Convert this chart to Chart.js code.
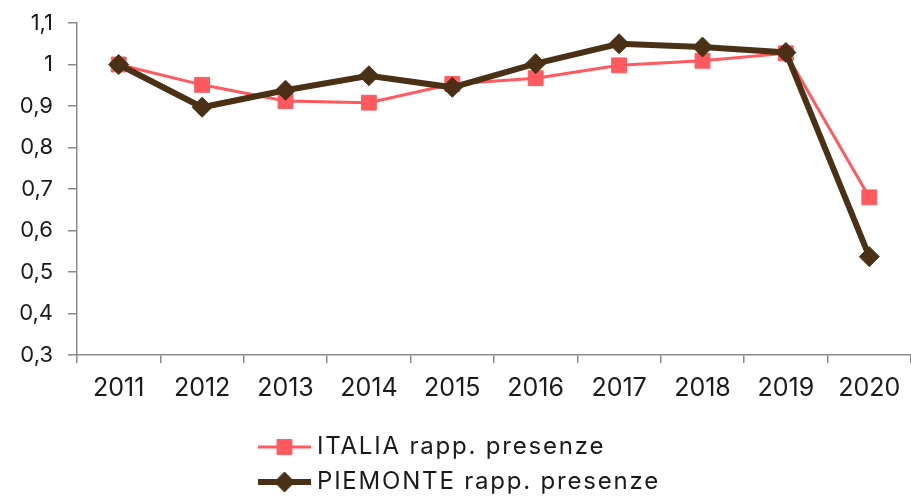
<!DOCTYPE html>
<html><head><meta charset="utf-8">
<script src="https://cdn.jsdelivr.net/npm/chart.js@4"></script>
<style>html,body{margin:0;padding:0;background:#fff;overflow:hidden}#wrap{width:911px;height:497px}</style>
</head><body><div id="wrap"><canvas id="c" width="911" height="497"></canvas></div>
<script>
const years = ['2011','2012','2013','2014','2015','2016','2017','2018','2019','2020'];
const italiaValues = [1.000,0.951,0.912,0.908,0.953,0.967,0.998,1.009,1.027,0.680];
const piemonteValues = [1.000,0.897,0.938,0.973,0.945,1.002,1.050,1.042,1.029,0.537];
const yTickLabels = ['0,3','0,4','0,5','0,6','0,7','0,8','0,9','1','1,1'];
const seriesNames = ['ITALIA rapp. presenze','PIEMONTE rapp. presenze'];

const FONT = 'Inter';
const axisColor = '#8a8a8a';

const legendPlugin = {
  id: 'customLegend',
  afterDraw(chart) {
    const ctx = chart.ctx;
    const x0 = 258, lineLen = 53, rows = [447, 482];
    ctx.save();
    chart.data.datasets.forEach((ds, i) => {
      const y = rows[i];
      ctx.strokeStyle = ds.borderColor;
      ctx.lineWidth = ds.borderWidth;
      ctx.beginPath(); ctx.moveTo(x0, y); ctx.lineTo(x0 + lineLen, y); ctx.stroke();
      const cx = x0 + lineLen / 2;
      ctx.fillStyle = ds.pointBackgroundColor;
      ctx.strokeStyle = ds.pointBorderColor;
      ctx.lineWidth = 1;
      ctx.beginPath();
      if (ds.pointStyle === 'rect') {
        const s = Math.SQRT1_2 * ds.pointRadius;
        ctx.rect(cx - s, y - s, 2 * s, 2 * s);
      } else {
        const r = ds.pointRadius;
        ctx.moveTo(cx, y - r); ctx.lineTo(cx + r, y); ctx.lineTo(cx, y + r); ctx.lineTo(cx - r, y); ctx.closePath();
      }
      ctx.fill(); ctx.stroke();
      ctx.fillStyle = '#1a1a1a';
      ctx.font = '24px ' + FONT;
      if ('letterSpacing' in ctx) ctx.letterSpacing = '1.8px';
      ctx.textBaseline = 'middle';
      ctx.textAlign = 'left';
      ctx.fillText(ds.label, x0 + lineLen + 6, y);
      if ('letterSpacing' in ctx) ctx.letterSpacing = '0px';
    });
    ctx.restore();
  }
};

new Chart(document.getElementById('c'), {
  type: 'line',
  data: {
    labels: years,
    datasets: [
      {
        label: seriesNames[0], data: italiaValues,
        borderColor: '#ff5a5f', backgroundColor: '#ff5a5f',
        borderWidth: 3, pointStyle: 'rect', pointRadius: 10.5,
        pointBackgroundColor: '#ff5a5f', pointBorderColor: '#ff5a5f', pointBorderWidth: 1,
        tension: 0, order: 1
      },
      {
        label: seriesNames[1], data: piemonteValues,
        borderColor: '#4a3015', backgroundColor: '#4a3015',
        borderWidth: 6, pointStyle: 'rectRot', pointRadius: 10,
        pointBackgroundColor: '#4a3015', pointBorderColor: '#4a3015', pointBorderWidth: 1,
        tension: 0, order: 0
      }
    ]
  },
  options: {
    responsive: false,
    animation: false,
    devicePixelRatio: 1,
    layout: { autoPadding: false, padding: { top: 23, right: 0, bottom: 0, left: 0 } },
    plugins: { legend: { display: false }, tooltip: { enabled: false } },
    scales: {
      x: {
        offset: true,
        grid: { offset: true, drawOnChartArea: false, drawTicks: true, tickLength: 8, color: axisColor, lineWidth: 1.5 },
        border: { display: true, color: axisColor, width: 1.5 },
        ticks: { color: '#1a1a1a', font: { family: FONT, size: 25 }, padding: 10, maxRotation: 0, autoSkip: false },
        afterFit(scale) { scale.height = 142; scale.paddingLeft = 0; scale.paddingRight = 0; }
      },
      y: {
        min: 0.3, max: 1.1,
        grid: { drawOnChartArea: false, drawTicks: true, tickLength: 9, color: axisColor, lineWidth: 1.5 },
        border: { display: true, color: axisColor, width: 1.5 },
        ticks: {
          stepSize: 0.1, color: '#1a1a1a', font: { family: FONT, size: 22 }, padding: 15,
          callback: (v, i) => yTickLabels[i]
        },
        afterFit(scale) { scale.width = 77; scale.paddingTop = 0; scale.paddingBottom = 0; }
      }
    }
  },
  plugins: [legendPlugin]
});
</script></body></html>
